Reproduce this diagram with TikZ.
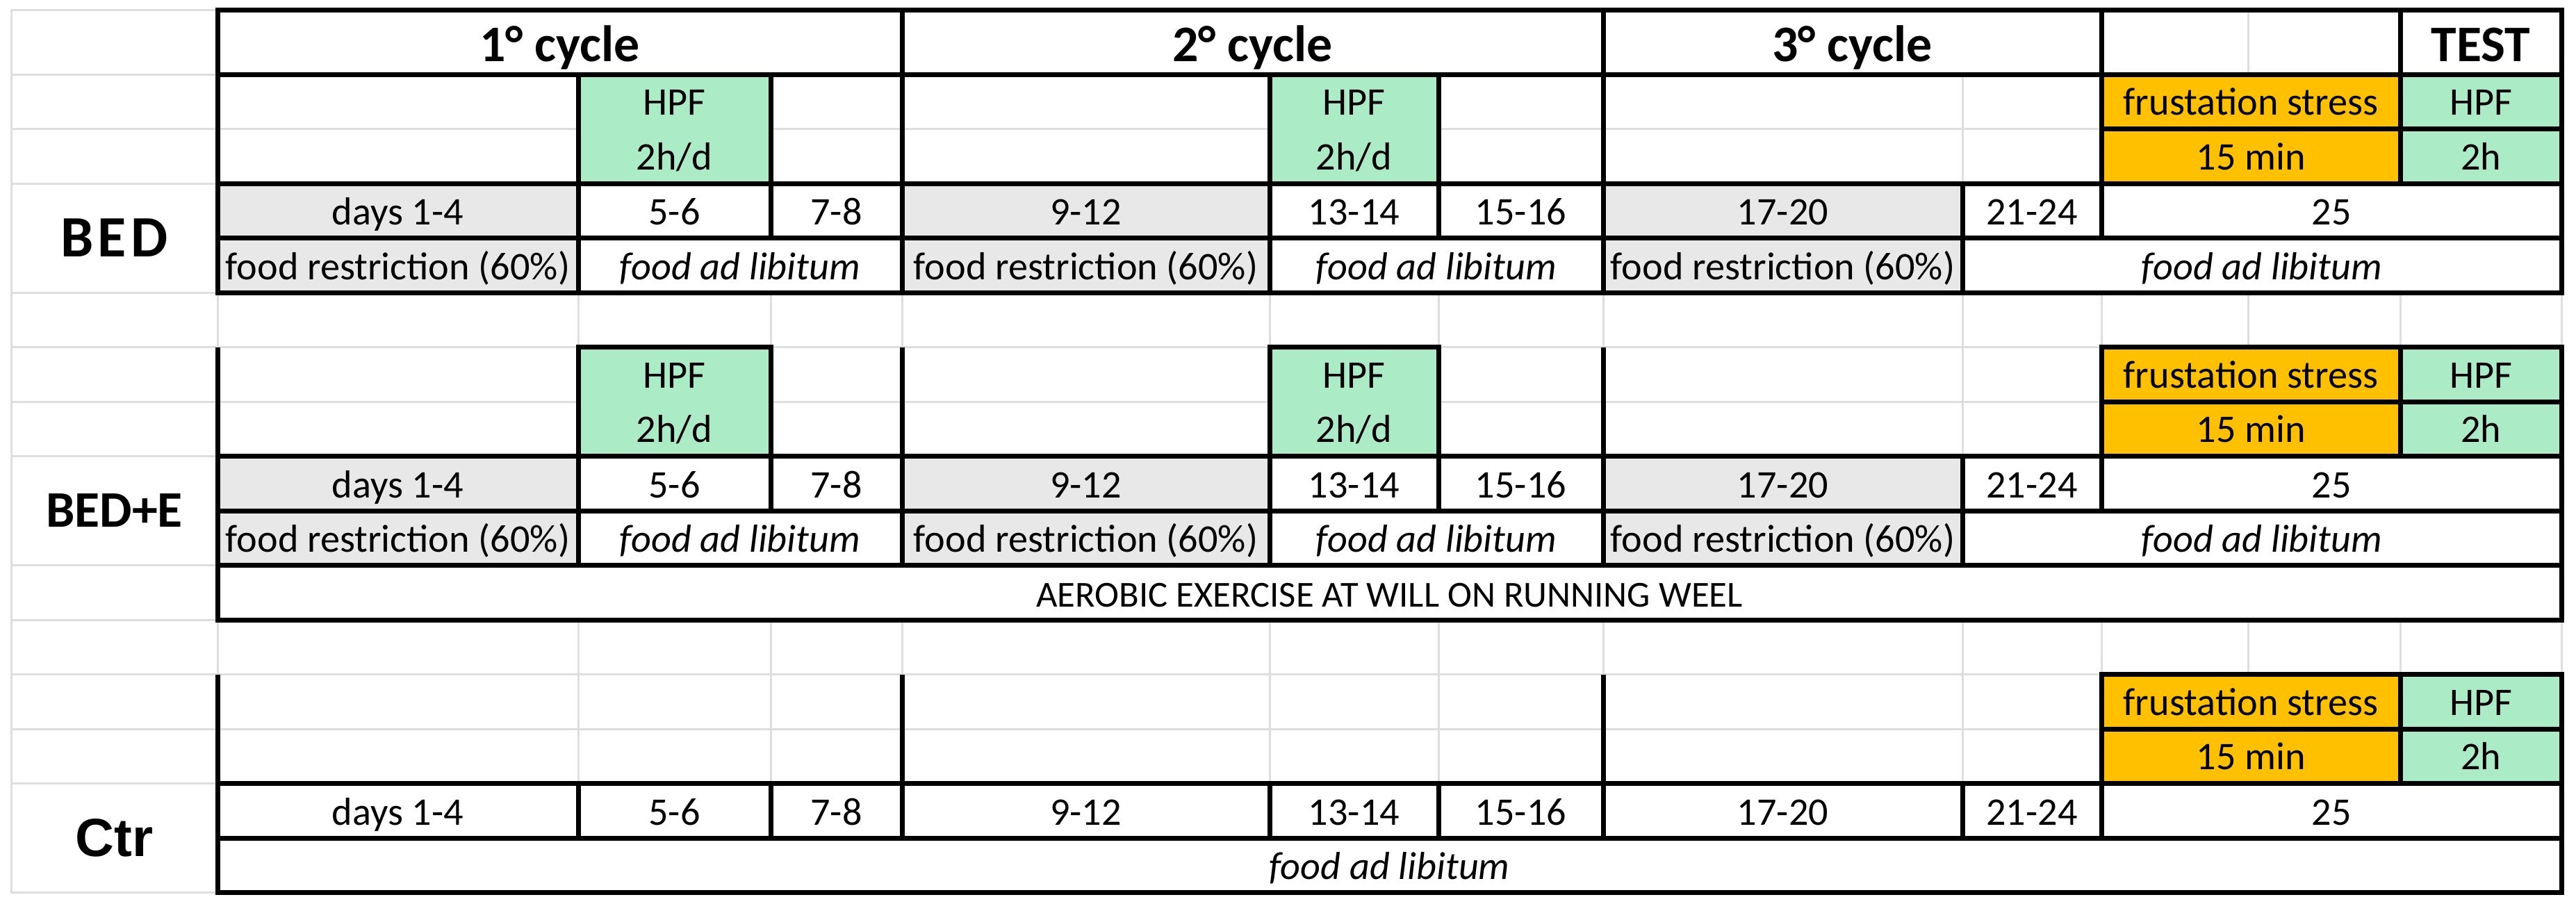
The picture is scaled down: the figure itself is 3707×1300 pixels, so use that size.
\documentclass[tikz,border=0pt]{standalone}
\usepackage{fontspec}
\setmainfont{Carlito}
\newfontfamily\arialfont{Liberation Sans}
\newfontfamily\spacedfont[LetterSpace=7]{Carlito}
\definecolor{hpfgreen}{RGB}{171,236,199}
\definecolor{stressorange}{RGB}{255,192,0}
\definecolor{restrgray}{RGB}{232,232,232}
\definecolor{gridgray}{RGB}{222,222,222}
\tikzset{
  thickline/.style={line width=0.7mm},
  gridline/.style={gridgray, line width=0.3mm},
  celltext/.style={font=\fontsize{16}{19}\selectfont, inner sep=0pt, anchor=base},
  headtext/.style={font=\fontsize{21}{25}\selectfont\bfseries, inner sep=0pt, anchor=base},
  grouplabel/.style={font=\fontsize{21}{25}\selectfont\bfseries, inner sep=0pt},
}
\begin{document}
\begin{tikzpicture}[x=0.1mm, y=-0.1mm]
	\useasboundingbox[fill=white] (0,0) rectangle (3707,1300);
	% light spreadsheet grid
	\draw[gridline] (16,14) -- (16,1284.5);
	\foreach \y in {14,107,185.5,264,421,499.5,578,656.5,813.5,892,970.5,1049,1127.5,1284.5}
		\draw[gridline] (16,\y) -- (313,\y);
	\foreach \x in {313,832,1109,1298,1827,2070,2307,2824,3024,3235,3454,3686} {
		\draw[gridline] (\x,421) -- (\x,499.5);
		\draw[gridline] (\x,892) -- (\x,970.5);
	}
	\draw[gridline] (313,499.5) -- (3686,499.5);
	\draw[gridline] (313,970.5) -- (3686,970.5);
	\draw[gridline] (3235,14) -- (3235,107);
	\foreach \y in {185.5,578,1049}
		\draw[gridline] (313,\y) -- (3024,\y);
	\foreach \ya/\yb in {107/264,499.5/656.5,970.5/1127.5}
		\draw[gridline] (2824,\ya) -- (2824,\yb);
	\foreach \x in {832,1109,1827,2070}
		\draw[gridline] (\x,970.5) -- (\x,1127.5);

	% header
	\foreach \xa/\xb/\txt [count=\i] in {313/1298/1° cycle, 1298/2307/2° cycle, 2307/3024/3° cycle, 3024/3454/, 3454/3686/TEST} {
		\draw[thickline] (\xa,14) rectangle (\xb,107);
		\node[headtext] (head\i) at ({(\xa+\xb)/2},88) {\txt};
	}

	% open rows above the days
	\foreach \xa/\xb in {313/832,1109/1298,1298/1827,2070/2307,2307/3024}
		\draw[thickline] (\xa,107) rectangle (\xb,264);
	\foreach \x in {313,1298,2307} {
		\draw[thickline] (\x,499.5) -- (\x,656.5);
		\draw[thickline] (\x,970.5) -- (\x,1127.5);
	}

	% HPF 2h/d
	\foreach \ya/\yb/\yc/\grp in {107/185.5/264/bed, 499.5/578/656.5/bede}
		\foreach \xa/\xb [count=\i] in {832/1109, 1827/2070} {
			\draw[thickline, fill=hpfgreen] (\xa,\ya) rectangle (\xb,\yc);
			\node[celltext] (\grp-hpf\i) at ({(\xa+\xb)/2},{\yb-20}) {HPF};
			\node[celltext] (\grp-dur\i) at ({(\xa+\xb)/2},{\yc-20}) {2h/d};
		}

	% frustation stress and test
	\foreach \ya/\yb/\yc/\grp in {107/185.5/264/bed, 499.5/578/656.5/bede, 970.5/1049/1127.5/ctr} {
		\draw[thickline, fill=stressorange] (3024,\ya) rectangle (3454,\yb);
		\draw[thickline, fill=stressorange] (3024,\yb) rectangle (3454,\yc);
		\draw[thickline, fill=hpfgreen] (3454,\ya) rectangle (3686,\yb);
		\draw[thickline, fill=hpfgreen] (3454,\yb) rectangle (3686,\yc);
		\node[celltext] (\grp-stress) at (3239,{\yb-20}) {frustation stress};
		\node[celltext] (\grp-min) at (3239,{\yc-20}) {15 min};
		\node[celltext] (\grp-test) at (3570,{\yb-20}) {HPF};
		\node[celltext] (\grp-testdur) at (3570,{\yc-20}) {2h};
	}

	% days and food
	\foreach \ya/\yb/\yc/\grp in {264/342.5/421/bed, 656.5/735/813.5/bede} {
		\foreach \xa/\xb/\fc/\txt [count=\i] in {313/832/restrgray/days 1-4, 832/1109/white/5-6, 1109/1298/white/7-8, 1298/1827/restrgray/9-12, 1827/2070/white/13-14, 2070/2307/white/15-16, 2307/2824/restrgray/17-20, 2824/3024/white/21-24, 3024/3686/white/25} {
			\draw[thickline, fill=\fc] (\xa,\ya) rectangle (\xb,\yb);
			\node[celltext] (\grp-day\i) at ({(\xa+\xb)/2},{\yb-19}) {\txt};
		}
		\foreach \xa/\xb/\fc/\txt [count=\i] in {313/832/restrgray/food restriction (60\%), 832/1298/white/\textit{food ad libitum}, 1298/1827/restrgray/food restriction (60\%), 1827/2307/white/\textit{food ad libitum}, 2307/2824/restrgray/food restriction (60\%), 2824/3686/white/\textit{food ad libitum}} {
			\draw[thickline, fill=\fc] (\xa,\yb) rectangle (\xb,\yc);
			\node[celltext] (\grp-food\i) at ({(\xa+\xb)/2},{\yc-19}) {\txt};
		}
	}
	\foreach \xa/\xb/\txt [count=\i] in {313/832/days 1-4, 832/1109/5-6, 1109/1298/7-8, 1298/1827/9-12, 1827/2070/13-14, 2070/2307/15-16, 2307/2824/17-20, 2824/3024/21-24, 3024/3686/25} {
		\draw[thickline] (\xa,1127.5) rectangle (\xb,1206);
		\node[celltext] (ctr-day\i) at ({(\xa+\xb)/2},1187) {\txt};
	}
	\draw[thickline] (313,1206) rectangle (3686,1284.5);
	\node[celltext] (ctr-food) at (1999.5,1265.5) {\textit{food ad libitum}};

	% running wheel
	\draw[thickline] (313,813.5) rectangle (3686,892);
	\node[celltext, font=\fontsize{15}{18}\selectfont] (aerobic) at (1999.5,873) {AEROBIC EXERCISE AT WILL ON RUNNING WEEL};

	% groups
	\node[grouplabel, font=\spacedfont\fontsize{24}{28}\selectfont\bfseries] (bed) at (164.5,342.5) {BED};
	\node[grouplabel] (bede) at (164.5,735) {BED+E};
	\node[grouplabel, font=\arialfont\fontsize{22}{26}\selectfont\bfseries] (ctr) at (164.5,1206) {Ctr};
\end{tikzpicture}
\end{document}
